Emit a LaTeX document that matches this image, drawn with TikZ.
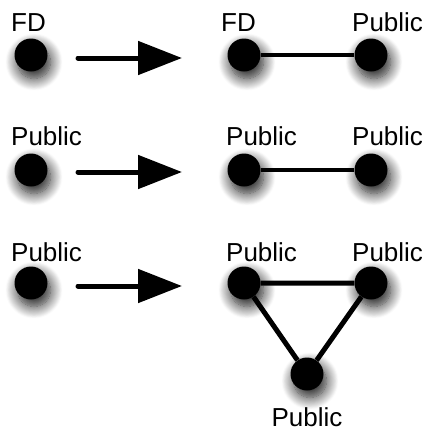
\documentclass[tikz,border=0pt]{standalone}
\usepackage{fontspec}
\setmainfont{Liberation Sans}
\usetikzlibrary{arrows.meta,shadows.blur}

\begin{document}
\begin{tikzpicture}
[
    x=1pt, y=-1pt,
    dot/.style={circle, fill=black, minimum size=33pt, inner sep=0pt,
        blur shadow={shadow xshift=3pt, shadow yshift=-7pt,
            shadow blur radius=12pt, shadow blur steps=14, shadow opacity=90}},
    lbl/.style={inner sep=0pt, font=\fontsize{26}{31}\selectfont},
    link/.style={line width=4.5pt},
    turns/.style={line width=5pt, line cap=round,
        -{Triangle[length=44pt, width=33pt]}},
]
\useasboundingbox (0,0) rectangle (429,432);
% row 1
\node [dot] (a1) at (31,55) {};
\node [dot] (b1) at (244,55) {};
\node [dot] (c1) at (371,55) {};
\node [lbl, anchor=base west] (ta1) at (11,31) {FD};
\node [lbl, anchor=base west] (tb1) at (221,31) {FD};
\node [lbl, anchor=base west] (tc1) at (352,31) {Public};
\coordinate (s1) at (78,58);
\coordinate (e1) at (182,58);
\draw [turns] (s1) -- (e1);
\draw [link] (b1) -- (c1);
% row 2
\node [dot] (a2) at (31,170) {};
\node [dot] (b2) at (244,170) {};
\node [dot] (c2) at (371,170) {};
\node [lbl, anchor=base west] (ta2) at (11,145) {Public};
\node [lbl, anchor=base west] (tb2) at (226,145) {Public};
\node [lbl, anchor=base west] (tc2) at (352,145) {Public};
\coordinate (s2) at (78,172);
\coordinate (e2) at (182,172);
\draw [turns] (s2) -- (e2);
\draw [link] (b2) -- (c2);
% row 3
\node [dot] (a3) at (31,283) {};
\node [dot] (b3) at (244,283) {};
\node [dot] (c3) at (371,283) {};
\node [dot] (d3) at (307,374) {};
\node [lbl, anchor=base west] (ta3) at (11,261) {Public};
\node [lbl, anchor=base west] (tb3) at (226,261) {Public};
\node [lbl, anchor=base west] (tc3) at (352,261) {Public};
\node [lbl, anchor=base] (td3) at (307,426) {Public};
\coordinate (s3) at (78,286);
\coordinate (e3) at (182,286);
\draw [turns] (s3) -- (e3);
\draw [link, line width=5pt] (b3) -- (c3) -- (d3) -- (b3);
\end{tikzpicture}
\end{document}
